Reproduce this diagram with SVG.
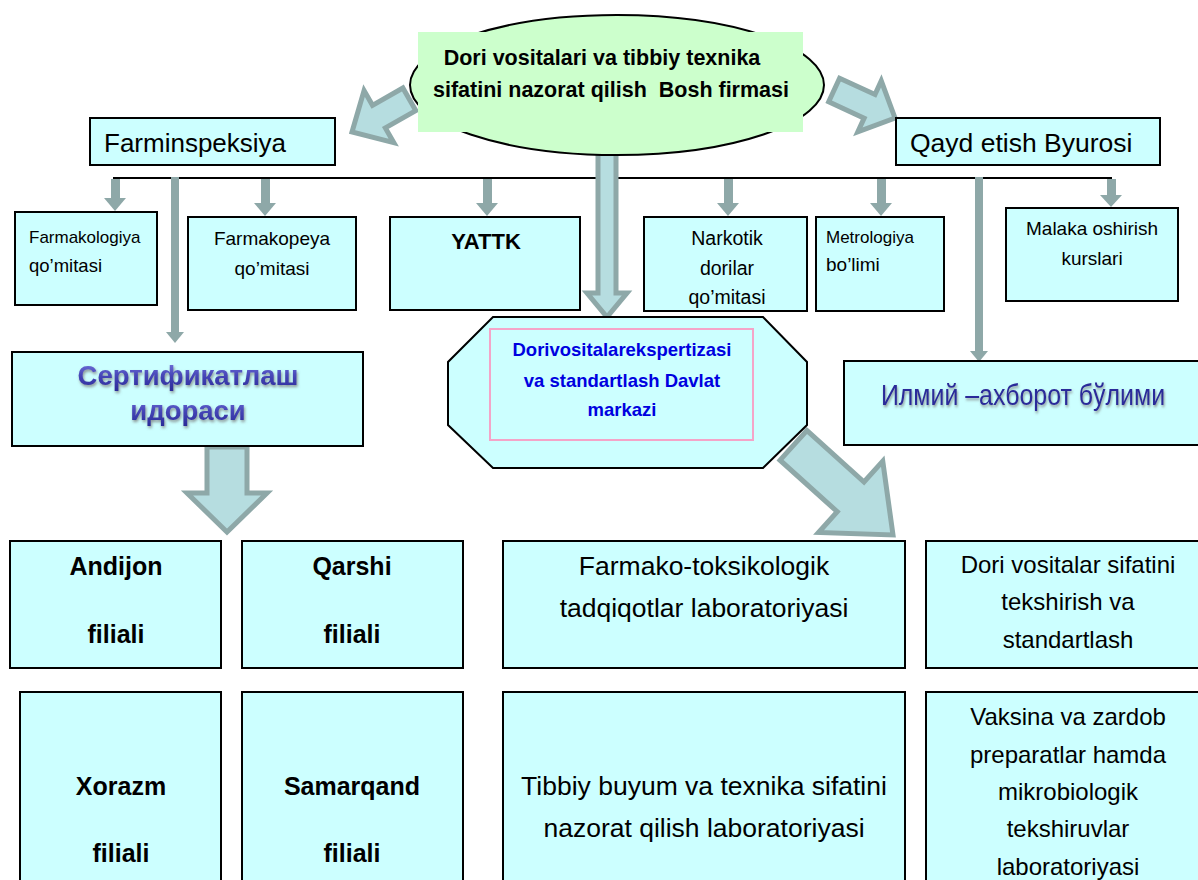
<svg xmlns="http://www.w3.org/2000/svg" width="1198" height="880" viewBox="0 0 1198 880">
<defs>
<style>
.box{fill:#ccffff;stroke:#000;stroke-width:2}
.t{font-family:"Liberation Sans",Arial,sans-serif;fill:#000}
.c{text-anchor:middle}
.b{font-weight:bold}
.blue{fill:#0000e0}
.big{fill:#b6dde0;stroke:#8ea8a8;stroke-width:5;stroke-linejoin:miter}
.sm{fill:#8ea8a8}
.ln{stroke:#8ea8a8;stroke-width:8}
.fancy{font-family:"Liberation Sans",Arial,sans-serif;font-weight:bold;fill:url(#gBlue);filter:url(#sh);text-anchor:middle}
</style>
<linearGradient id="gBlue" x1="0" y1="0" x2="0" y2="1">
<stop offset="0" stop-color="#7a7ae0"/>
<stop offset="0.5" stop-color="#4646b8"/>
<stop offset="1" stop-color="#2a2a98"/>
</linearGradient>
<filter id="sh" x="-10%" y="-30%" width="120%" height="160%">
<feDropShadow dx="1" dy="2" stdDeviation="1.5" flood-color="#777" flood-opacity="0.8"/>
</filter>
<clipPath id="clipNark"><rect x="645" y="218" width="162" height="93"/></clipPath>
</defs>

<!-- connectors -->
<g id="connectors">
<line x1="113" y1="178" x2="1112" y2="178" stroke="#000" stroke-width="2"/>
<g class="sm">
<rect x="111" y="179" width="9" height="20"/><polygon points="104,198 126,198 115,211"/>
<rect x="261" y="179" width="9" height="24"/><polygon points="254,203 276,203 265,216"/>
<rect x="483" y="179" width="9" height="24"/><polygon points="476,203 498,203 487,216"/>
<rect x="724" y="179" width="9" height="24"/><polygon points="717,203 739,203 728,216"/>
<rect x="877" y="179" width="9" height="24"/><polygon points="870,203 892,203 881,216"/>
<rect x="1107" y="179" width="9" height="16"/><polygon points="1100,195 1122,195 1111,207"/>
</g>
<line class="ln" x1="175" y1="177" x2="175" y2="333"/>
<polygon class="sm" points="166,332 184,332 175,343"/>
<line class="ln" x1="979" y1="177" x2="979" y2="352"/>
<polygon class="sm" points="970,351 988,351 979,362"/>
<polygon class="big" points="598,152 616,152 616,293 627,293 607,317 587,293 598,293"/>
<g transform="translate(352,132) rotate(150.3)"><polygon class="big" points="-66,-13 -31,-13 -31,-30 0,0 -31,30 -31,13 -66,13"/></g>
<g transform="translate(895,118) rotate(24.7)"><polygon class="big" points="-67,-13 -28,-13 -28,-28 0,0 -28,28 -28,13 -67,13"/></g>
<polygon class="big" points="207,447 247,447 247,493 267,493 227,532 187,493 207,493"/>
<g transform="translate(893,535) rotate(42)"><polygon class="big" points="-134,-20 -57,-20 -57,-48 0,0 -57,48 -57,20 -134,20"/></g>
</g>

<g id="head">
<ellipse cx="617" cy="85" rx="207" ry="70" fill="#ccffcc" stroke="#000" stroke-width="2"/>
<rect x="418" y="32" width="385" height="100" fill="#ccffcc"/>
<text class="t b c" x="602" y="65" font-size="21.5">Dori vositalari va tibbiy texnika</text>
<text class="t b c" x="611" y="97" font-size="21.5" xml:space="preserve">sifatini nazorat qilish  Bosh firmasi</text>
</g>

<g id="farminspeksiya">
<rect class="box" x="90" y="118" width="245" height="47"/>
<text class="t" x="104" y="152" font-size="26">Farminspeksiya</text>
</g>

<g id="qayd">
<rect class="box" x="896" y="118" width="264" height="47"/>
<text class="t" x="910" y="152" font-size="26.5">Qayd etish Byurosi</text>
</g>

<g id="farmakologiya">
<rect class="box" x="15" y="212" width="142" height="93"/>
<text class="t" x="29" y="243" font-size="17">Farmakologiya</text>
<text class="t" x="29" y="272" font-size="18.5">qo’mitasi</text>
</g>

<g id="farmakopeya">
<rect class="box" x="188" y="217" width="168" height="93"/>
<text class="t c" x="272" y="245" font-size="19">Farmakopeya</text>
<text class="t c" x="272" y="275" font-size="19">qo’mitasi</text>
</g>

<g id="yattk">
<rect class="box" x="390" y="217" width="190" height="93"/>
<text class="t b c" x="486" y="249" font-size="22">YATTK</text>
</g>

<g id="narkotik">
<rect class="box" x="644" y="217" width="163" height="94"/>
<g clip-path="url(#clipNark)">
<text class="t c" x="727" y="245" font-size="19.5">Narkotik</text>
<text class="t c" x="727" y="275" font-size="19.5">dorilar</text>
<text class="t c" x="727" y="304" font-size="19.5">qo’mitasi</text>
</g>
</g>

<g id="metrologiya">
<rect class="box" x="816" y="217" width="128" height="94"/>
<text class="t" x="826" y="243" font-size="17">Metrologiya</text>
<text class="t" x="826" y="271" font-size="19">bo’limi</text>
</g>

<g id="malaka">
<rect class="box" x="1006" y="208" width="172" height="93"/>
<text class="t c" x="1092" y="235" font-size="19">Malaka oshirish</text>
<text class="t c" x="1092" y="265" font-size="19">kurslari</text>
</g>

<g id="sertifikatlash">
<rect class="box" x="12" y="352" width="351" height="94"/>
<text class="fancy" x="188" y="385" font-size="27.5">Сертификатлаш</text>
<text class="fancy" x="188" y="420" font-size="27.5">идораси</text>
</g>

<g id="markaz">
<polygon points="493,317 763,317 807,362 807,425 763,468 493,468 448,425 448,362" fill="#ccffff" stroke="#000" stroke-width="2"/>
<rect x="490" y="329" width="263" height="111" fill="none" stroke="#f4a4c8" stroke-width="2"/>
<text class="t b c blue" x="622" y="356" font-size="18.5">Dorivositalarekspertizasi</text>
<text class="t b c blue" x="622" y="387" font-size="18.5">va standartlash Davlat</text>
<text class="t b c blue" x="622" y="416" font-size="18.5">markazi</text>
</g>

<g id="ilmiy">
<rect class="box" x="844" y="361" width="360" height="84"/>
<text transform="translate(1023,405) scale(0.86,1)" x="0" y="0" font-size="29" style="font-family:'Liberation Sans',Arial,sans-serif;fill:#2a2a9a;filter:url(#sh);text-anchor:middle">Илмий –ахборот бўлими</text>
</g>

<g id="andijon">
<rect class="box" x="10" y="541" width="211" height="127"/>
<text class="t b c" x="116" y="575" font-size="25">Andijon</text>
<text class="t b c" x="116" y="643" font-size="25">filiali</text>
</g>

<g id="qarshi">
<rect class="box" x="242" y="541" width="221" height="127"/>
<text class="t b c" x="352" y="575" font-size="25">Qarshi</text>
<text class="t b c" x="352" y="643" font-size="25">filiali</text>
</g>

<g id="farmako">
<rect class="box" x="503" y="541" width="402" height="127"/>
<text class="t c" x="704" y="575" font-size="26.5">Farmako-toksikologik</text>
<text class="t c" x="704" y="617" font-size="26.5">tadqiqotlar laboratoriyasi</text>
</g>

<g id="dori">
<rect class="box" x="926" y="541" width="280" height="127"/>
<text class="t c" x="1068" y="573" font-size="24">Dori vositalar sifatini</text>
<text class="t c" x="1068" y="610" font-size="24">tekshirish va</text>
<text class="t c" x="1068" y="648" font-size="24">standartlash</text>
</g>

<g id="xorazm">
<rect class="box" x="20" y="692" width="201" height="200"/>
<text class="t b c" x="121" y="795" font-size="25">Xorazm</text>
<text class="t b c" x="121" y="862" font-size="25">filiali</text>
</g>

<g id="samarqand">
<rect class="box" x="242" y="692" width="221" height="200"/>
<text class="t b c" x="352" y="795" font-size="25">Samarqand</text>
<text class="t b c" x="352" y="862" font-size="25">filiali</text>
</g>

<g id="tibbiy">
<rect class="box" x="503" y="692" width="402" height="200"/>
<text class="t c" x="704" y="795" font-size="26.5">Tibbiy buyum va texnika sifatini</text>
<text class="t c" x="704" y="837" font-size="26.5">nazorat qilish laboratoriyasi</text>
</g>

<g id="vaksina">
<rect class="box" x="926" y="692" width="280" height="200"/>
<text class="t c" x="1068" y="725" font-size="24">Vaksina va zardob</text>
<text class="t c" x="1068" y="763" font-size="24">preparatlar hamda</text>
<text class="t c" x="1068" y="800" font-size="24">mikrobiologik</text>
<text class="t c" x="1068" y="837" font-size="24">tekshiruvlar</text>
<text class="t c" x="1068" y="875" font-size="24">laboratoriyasi</text>
</g>
</svg>
